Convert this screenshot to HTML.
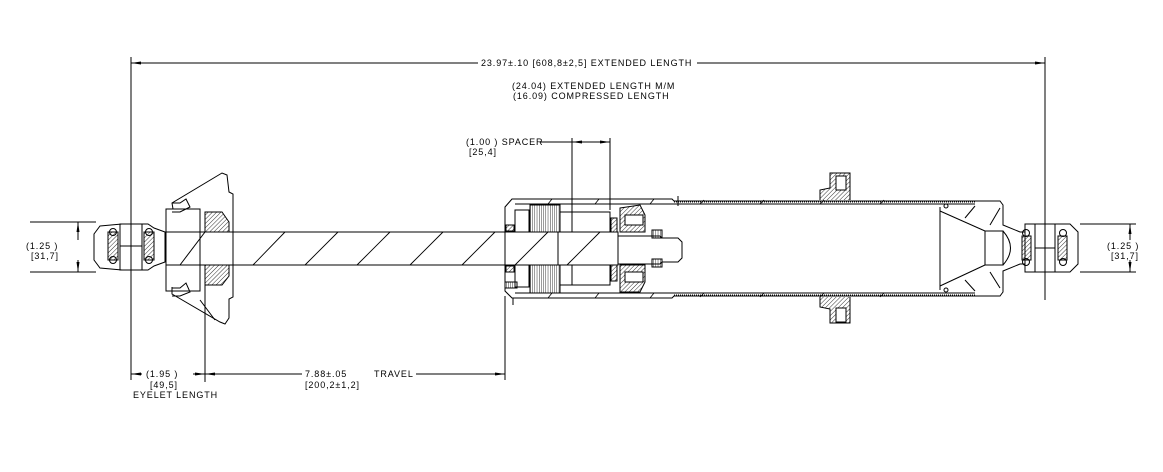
<!DOCTYPE html>
<html><head><meta charset="utf-8"><style>
html,body{margin:0;padding:0;background:#fff;}
svg{display:block}
text{font-family:"Liberation Sans",sans-serif;font-size:9px;fill:#000;letter-spacing:0.9px}
</style></head><body>
<svg width="1163" height="472" viewBox="0 0 1163 472" xmlns="http://www.w3.org/2000/svg">
<defs>
<pattern id="h" width="3" height="3" patternUnits="userSpaceOnUse" patternTransform="rotate(45)"><line x1="0" y1="0" x2="0" y2="3" stroke="#000" stroke-width="0.8"/></pattern>
<pattern id="v" width="2.2" height="4" patternUnits="userSpaceOnUse"><line x1="0" y1="0" x2="0" y2="4" stroke="#000" stroke-width="0.8"/></pattern>
<marker id="a" viewBox="0 0 10 6" refX="10" refY="3" markerWidth="10" markerHeight="6" orient="auto-start-reverse" markerUnits="userSpaceOnUse"><path d="M0,1.5 L10,3 L0,4.5z" fill="#000"/></marker>
</defs>
<g stroke="#000" fill="none" stroke-width="1">
<line x1="131" y1="57" x2="131" y2="380"/>
<line x1="1045" y1="57" x2="1045" y2="300"/>
<line x1="131" y1="63" x2="478" y2="63" marker-start="url(#a)"/>
<line x1="697" y1="63" x2="1045" y2="63" marker-end="url(#a)"/>
<line x1="540" y1="142" x2="572" y2="142"/>
<line x1="572" y1="138" x2="572" y2="212"/>
<line x1="610" y1="138" x2="610" y2="210"/>
<line x1="572" y1="142" x2="610" y2="142" marker-start="url(#a)" marker-end="url(#a)"/>
<line x1="30" y1="222" x2="96" y2="222"/>
<line x1="30" y1="272" x2="96" y2="272"/>
<line x1="78" y1="222" x2="78" y2="240" marker-start="url(#a)"/>
<line x1="78" y1="260" x2="78" y2="272" marker-end="url(#a)"/>
<line x1="1080" y1="224" x2="1136" y2="224"/>
<line x1="1080" y1="272" x2="1136" y2="272"/>
<line x1="1130" y1="224" x2="1130" y2="240" marker-start="url(#a)"/>
<line x1="1130" y1="260" x2="1130" y2="272" marker-end="url(#a)"/>
<line x1="205" y1="265" x2="205" y2="382"/>
<line x1="505" y1="296" x2="505" y2="380"/>
<line x1="131" y1="374" x2="142" y2="374" marker-start="url(#a)"/>
<line x1="193" y1="374" x2="205" y2="374" marker-end="url(#a)"/>
<line x1="205" y1="374" x2="302" y2="374" marker-start="url(#a)"/>
<line x1="416" y1="374" x2="505" y2="374" marker-end="url(#a)"/>

<!-- left eyelet -->
<path d="M100,226 L122,224 L148,224 L154,228 L165,232 L165,262 L154,266 L148,270 L122,270 L100,268 L94,260 L94,234 Z"/>
<rect x="120" y="224" width="22" height="46"/>
<line x1="120" y1="246" x2="142" y2="246"/>
<rect x="108" y="232" width="10" height="28" fill="url(#h)"/>
<rect x="144" y="232" width="10" height="28" fill="url(#h)"/>
<circle cx="113" cy="232" r="3.5"/><circle cx="113" cy="260" r="3.5"/>
<circle cx="149" cy="232" r="3.5"/><circle cx="149" cy="260" r="3.5"/>
<!-- left end cap -->
<path d="M173,209 L172,203 L222,173 L227,175 L229,192 L233,194 L233,297 L229,299 L229,318 L225,324 L220,322 L172,294 L172,287"/>
<path d="M166,209 L200,209 L200,291 L166,291 Z"/>
<path d="M172,203 L180,203 L186,199 L190,207 L180,212 L172,212"/>
<path d="M172,288 L180,288 L186,283 L190,292 L180,296 L172,296"/>
<path d="M205,212 L222,212 L229,222 L229,232 L205,232 Z" fill="url(#h)"/>
<path d="M205,265 L229,265 L229,276 L222,285 L205,285 Z" fill="url(#h)"/>
<line x1="166" y1="232" x2="233" y2="232"/>
<line x1="166" y1="265" x2="233" y2="265"/>
<line x1="166" y1="232" x2="166" y2="265"/>
<line x1="205" y1="286" x2="205" y2="320"/>
<line x1="205" y1="232" x2="180" y2="265"/>
<line x1="200" y1="300" x2="215" y2="320"/>
<!-- rod -->
<rect x="233" y="232" width="385" height="33"/>
<g stroke-width="0.9">
<line x1="253" y1="265" x2="285" y2="232"/><line x1="305" y1="265" x2="338" y2="232"/>
<line x1="357" y1="265" x2="390" y2="232"/><line x1="410" y1="265" x2="443" y2="232"/>
<line x1="462" y1="265" x2="495" y2="232"/><line x1="515" y1="265" x2="548" y2="232"/>
<line x1="567" y1="265" x2="600" y2="232"/>
</g>
<path d="M618,236 L660,236 L662,238 L678,238 L682,242 L682,258 L678,262 L662,262 L660,264 L618,264"/>
<rect x="652" y="230" width="10" height="8" fill="url(#v)"/>
<rect x="652" y="259" width="10" height="8" fill="url(#v)"/>
<!-- body cylinder -->
<path d="M1025,232 L1020,232 L1003,225 L1003,205 L1000,201 L674,201 L672,199 L512,199 L505,207 L505,291 L512,298 L672,298 L674,296 L1000,296 L1003,292 L1003,271 L1020,264 L1025,264"/>
<line x1="515" y1="204" x2="975" y2="204"/>
<line x1="515" y1="293" x2="975" y2="293"/>
<line x1="674" y1="202" x2="975" y2="202" stroke-dasharray="1 1"/>
<line x1="674" y1="295" x2="975" y2="295" stroke-dasharray="1 1"/>
<g stroke-width="0.8">
<line x1="548" y1="204" x2="552" y2="199"/><line x1="595" y1="204" x2="599" y2="199"/><line x1="650" y1="204" x2="654" y2="199"/>
<line x1="700" y1="204" x2="704" y2="200"/><line x1="760" y1="204" x2="764" y2="200"/><line x1="820" y1="204" x2="824" y2="200"/><line x1="880" y1="204" x2="884" y2="200"/>
<line x1="548" y1="298" x2="552" y2="293"/><line x1="595" y1="298" x2="599" y2="293"/><line x1="650" y1="298" x2="654" y2="293"/>
<line x1="700" y1="297" x2="704" y2="293"/><line x1="760" y1="297" x2="764" y2="293"/><line x1="820" y1="297" x2="824" y2="293"/><line x1="880" y1="297" x2="884" y2="293"/>
</g>
<line x1="678" y1="196" x2="678" y2="206"/>
<line x1="513" y1="298" x2="513" y2="305"/>
<rect x="515" y="210" width="14" height="22"/>
<rect x="515" y="265" width="14" height="22"/>
<rect x="530" y="205" width="30" height="27" fill="url(#v)"/>
<rect x="530" y="265" width="30" height="28" fill="url(#v)"/>
<rect x="506" y="225" width="8" height="6" fill="url(#h)"/>
<rect x="506" y="266" width="8" height="6" fill="url(#h)"/>
<rect x="505" y="282" width="12" height="6" fill="url(#v)"/>
<rect x="560" y="212" width="12" height="20"/>
<rect x="560" y="265" width="12" height="20"/>
<rect x="572" y="212" width="38" height="20"/>
<rect x="572" y="265" width="38" height="20"/>
<line x1="558" y1="232" x2="558" y2="265"/>
<rect x="611" y="218" width="6" height="14" fill="url(#h)"/>
<rect x="611" y="265" width="6" height="16" fill="url(#h)"/>
<path d="M620,208 L640,205 L645,215 L645,232 L620,232 Z" fill="url(#h)"/>
<path d="M620,265 L645,265 L645,282 L640,292 L620,292 Z" fill="url(#h)"/>
<rect x="625" y="215" width="18" height="10" fill="#fff"/>
<rect x="625" y="272" width="18" height="10" fill="#fff"/>
<path d="M820,200 L820,190 L830,188 L830,173 L850,173 L850,200" fill="url(#h)"/>
<rect x="836" y="176" width="10" height="14" fill="#fff"/>
<path d="M820,297 L820,307 L830,309 L830,323 L850,323 L850,297" fill="url(#h)"/>
<rect x="836" y="308" width="10" height="14" fill="#fff"/>
<line x1="940" y1="207" x2="940" y2="290"/>
<line x1="940" y1="211" x2="985" y2="231"/>
<line x1="940" y1="286" x2="985" y2="265"/>
<line x1="965" y1="218" x2="975" y2="206"/>
<line x1="965" y1="280" x2="975" y2="291"/>
<line x1="990" y1="225" x2="1000" y2="208"/>
<line x1="990" y1="272" x2="1000" y2="288"/>
<rect x="985" y="231" width="18" height="34"/>
<path d="M1003,231 Q1018,248 1003,265"/>
<circle cx="946" cy="206" r="2"/><circle cx="946" cy="290" r="2"/>
<path d="M1025,224 L1070,224 L1078,232 L1078,264 L1070,272 L1025,272 Z"/>
<rect x="1035" y="224" width="20" height="48"/>
<line x1="1035" y1="248" x2="1055" y2="248"/>
<rect x="1022" y="236" width="9" height="24" fill="url(#h)"/>
<rect x="1058" y="236" width="9" height="24" fill="url(#h)"/>
<circle cx="1026" cy="233" r="3.5"/><circle cx="1026" cy="262" r="3.5"/>
<circle cx="1063" cy="233" r="3.5"/><circle cx="1063" cy="262" r="3.5"/>
</g>
<text x="481" y="66">23.97±.10 [608,8±2,5]  EXTENDED LENGTH</text>
<text x="512" y="89">(24.04) EXTENDED LENGTH M/M</text>
<text x="513" y="99">(16.09) COMPRESSED LENGTH</text>
<text x="466" y="145">(1.00   ) SPACER</text>
<text x="469" y="155">[25,4]</text>
<text x="26" y="249">(1.25    )</text>
<text x="31" y="259">[31,7]</text>
<text x="1107" y="249">(1.25    )</text>
<text x="1111" y="259">[31,7]</text>
<text x="146" y="377">(1.95    )</text>
<text x="150" y="388">[49,5]</text>
<text x="133" y="398">EYELET LENGTH</text>
<text x="305" y="377">7.88±.05</text>
<text x="374" y="377">TRAVEL</text>
<text x="305" y="388">[200,2±1,2]</text>
</svg>
</body></html>
